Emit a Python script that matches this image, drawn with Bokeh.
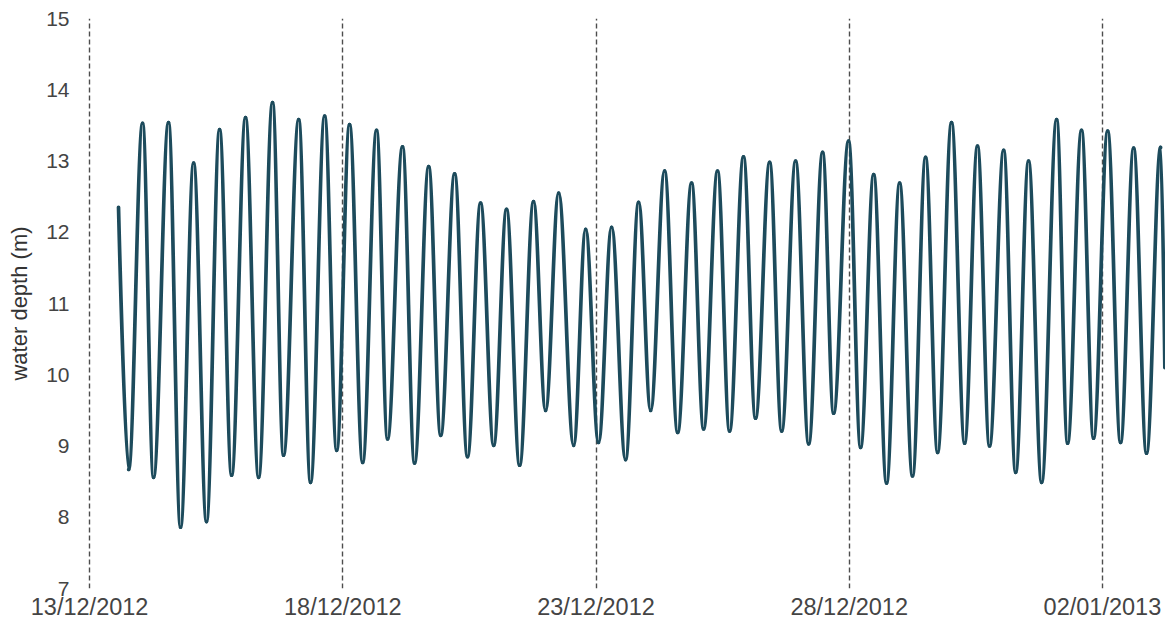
from datetime import datetime, timedelta
import pandas as pd
from bokeh.plotting import figure
from bokeh.models import FixedTicker, DatetimeTickFormatter, Range1d, ColumnDataSource
from bokeh.embed import file_html
from bokeh.resources import INLINE

# ---- data: successive high/low water turning points ----
start_time = datetime(2012, 12, 13)
# hours since 13/12/2012 00:00
times_h = [13.7, 18.5, 25.1, 30.3, 37.4, 43.1, 49.3, 55.4, 61.6, 67.3,
           73.9, 80.1, 86.7, 91.9, 99.1, 104.7, 111.4, 117.1, 123.2, 129.4,
           136.0, 141.2, 148.3, 154.0, 160.7, 166.4, 173.0, 179.1, 185.3, 191.5,
           197.6, 203.8, 210.4, 216.1, 222.3, 229.4, 235.1, 241.2, 247.4, 254.0,
           260.2, 265.9, 272.5, 278.7, 285.3, 291.0, 297.6, 303.3, 309.9, 315.6,
           322.3, 328.0, 334.6, 340.8, 347.4, 352.6, 359.7, 365.4, 371.6, 377.7,
           383.9, 390.0, 396.2, 401.9, 408.5, 414.7, 420.8, 426.5, 433.2, 438.9,
           445.0, 451.2, 458.3, 463.5, 470.1, 475.8, 482.5, 488.6, 494.8, 500.9,
           507.6, 509.6]
depth_m = [12.35, 8.67, 13.53, 8.56, 13.54, 7.86, 12.97, 7.94, 13.44, 8.59,
           13.61, 8.56, 13.82, 8.87, 13.58, 8.49, 13.63, 8.94, 13.51, 8.77,
           13.43, 9.10, 13.20, 8.76, 12.92, 9.15, 12.82, 8.85, 12.41, 9.01,
           12.32, 8.73, 12.43, 9.50, 12.55, 9.01, 12.04, 9.05, 12.07, 8.81,
           12.42, 9.50, 12.86, 9.19, 12.69, 9.24, 12.86, 9.21, 13.06, 9.39,
           12.98, 9.21, 13.00, 9.03, 13.12, 9.46, 13.28, 8.98, 12.81, 8.48,
           12.69, 8.58, 13.05, 8.91, 13.54, 9.04, 13.21, 9.00, 13.15, 8.63,
           13.00, 8.49, 13.58, 9.04, 13.43, 9.11, 13.42, 9.05, 13.18, 8.90,
           13.19, 10.10]

tick_dates = ["2012-12-13", "2012-12-18", "2012-12-23", "2012-12-28", "2013-01-02"]
y_ticks = [7, 8, 9, 10, 11, 12, 13, 14, 15]

x_start_h = -1.0
x_end_h = 509.9
y_min, y_max = 7, 15

# times in ms since epoch (Bokeh datetime units)
t0_ms = pd.Timestamp(start_time).value / 1e6
t_ms = [t0_ms + h * 3600e3 for h in times_h]

# smooth tide curve: cubic segments between turning points, flat at each
# high / low water (first and last points are where the record is cut)
k = 0.364
n = len(t_ms)
seg = dict(x0=[], y0=[], x1=[], y1=[], cx0=[], cy0=[], cx1=[], cy1=[])
for i in range(n - 1):
    xa, ya, xb, yb = t_ms[i], depth_m[i], t_ms[i + 1], depth_m[i + 1]
    dt = xb - xa
    seg["x0"].append(xa); seg["y0"].append(ya)
    seg["x1"].append(xb); seg["y1"].append(yb)
    if i == 0:
        seg["cx0"].append(xa); seg["cy0"].append(ya)
    else:
        seg["cx0"].append(xa + k * dt); seg["cy0"].append(ya)
    if i == n - 2:
        seg["cx1"].append(xb); seg["cy1"].append(yb)
    else:
        seg["cx1"].append(xb - k * dt); seg["cy1"].append(yb)
src = ColumnDataSource(seg)

p = figure(width=1165, height=632, x_axis_type="datetime",
           output_backend="svg", toolbar_location=None,
           x_range=Range1d(t0_ms + x_start_h * 3600e3, t0_ms + x_end_h * 3600e3),
           y_range=Range1d(y_min, y_max),
           min_border_left=87, min_border_right=0,
           min_border_top=18, min_border_bottom=44)
p.outline_line_color = None
p.background_fill_color = "white"
p.border_fill_color = "white"

p.bezier(x0="x0", y0="y0", x1="x1", y1="y1", cx0="cx0", cy0="cy0",
         cx1="cx1", cy1="cy1", source=src, line_color="#1d4b5c",
         line_width=3.7, line_cap="round")

# axes
tick_ms = [pd.Timestamp(d).value // 10**6 for d in tick_dates]
p.xaxis.ticker = FixedTicker(ticks=tick_ms)
fmt = "%d/%m/%Y"
p.xaxis.formatter = DatetimeTickFormatter(
    microseconds=fmt, milliseconds=fmt, seconds=fmt, minsec=fmt, minutes=fmt,
    hourmin=fmt, hours=fmt, days=fmt, months=fmt, years=fmt)
p.yaxis.ticker = FixedTicker(ticks=y_ticks)

for ax in (p.xaxis[0], p.yaxis[0]):
    ax.axis_line_color = None
    ax.major_tick_line_color = None
    ax.minor_tick_line_color = None
    ax.major_tick_out = 0
    ax.major_tick_in = 0
    ax.major_label_text_font = "Liberation Sans"
    ax.major_label_text_color = "#444444"
    ax.major_label_text_font_size = "21px"

p.xaxis.major_label_text_font_size = "23.5px"
p.xaxis.major_label_standoff = 5
p.yaxis.major_label_standoff = 18

p.yaxis.axis_label = "water depth (m)"
p.yaxis.axis_label_text_font = "Liberation Sans"
p.yaxis.axis_label_text_font_style = "normal"
p.yaxis.axis_label_text_font_size = "22px"
p.yaxis.axis_label_text_color = "#333333"
p.yaxis.axis_label_standoff = 11

p.ygrid.grid_line_color = None
p.xgrid.grid_line_color = "#4d4d4d"
p.xgrid.grid_line_dash = "5 3"
p.xgrid.grid_line_width = 1.4

open("out.html", "w").write(file_html(p, INLINE))
